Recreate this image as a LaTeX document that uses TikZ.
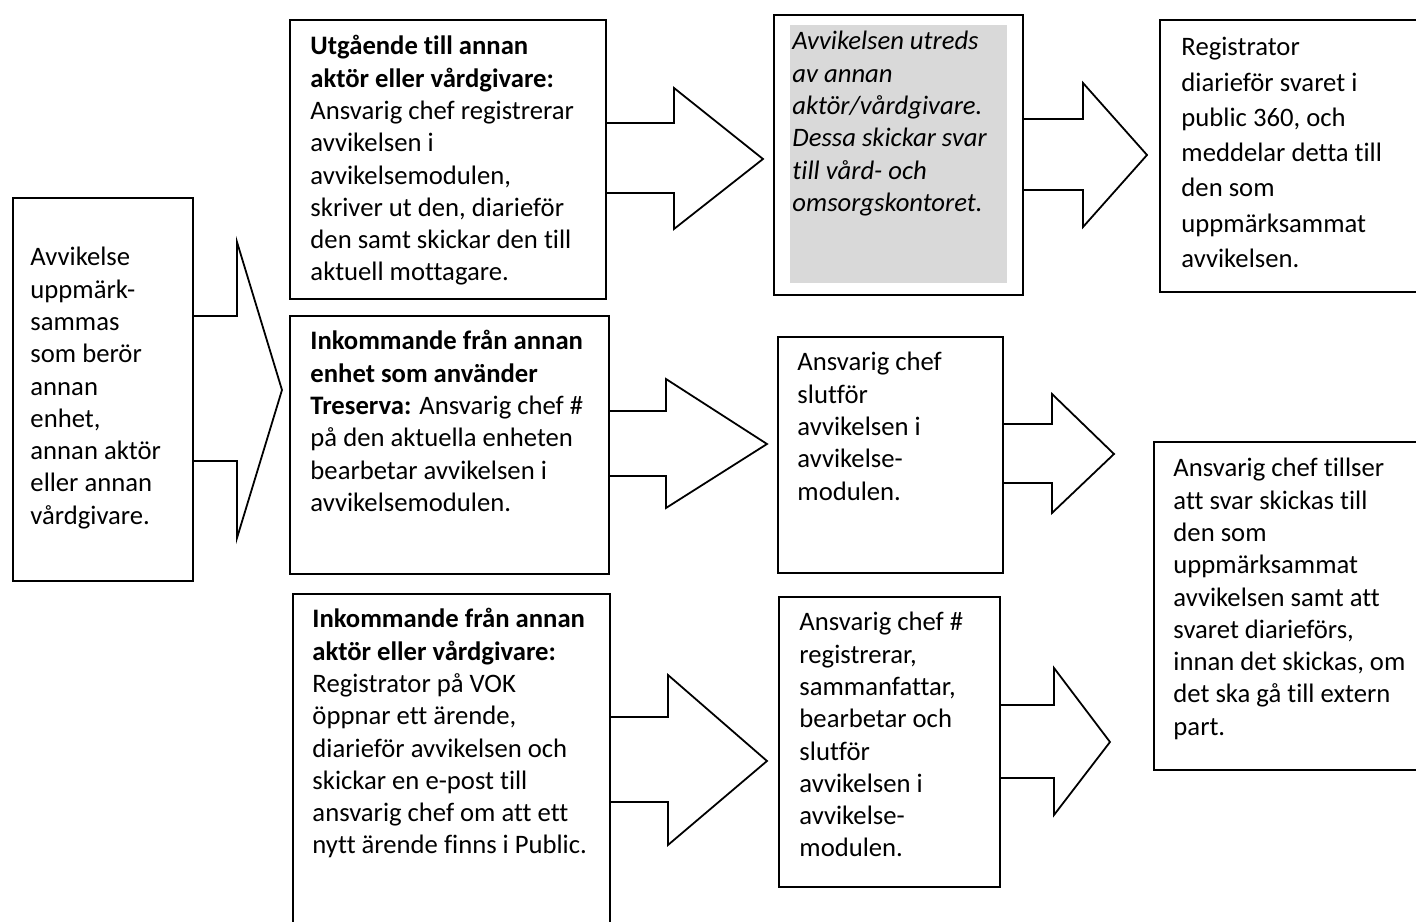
\documentclass[tikz,border=0pt]{standalone}
\usepackage{fontspec}
\setmainfont{Carlito}[Ligatures=NoCommon]
\definecolor{boxgray}{HTML}{D9D9D9}
\begin{document}
\begin{tikzpicture}[x=0.42pt,y=-0.42pt,
  box/.style={draw=black,line width=0.75pt,fill=white,inner sep=0pt,anchor=north west},
  blk/.style={draw=black,line width=0.75pt,line join=miter},
  txt/.style={anchor=base west,inner sep=0pt,font=\fontsize{11.2}{13.55}\selectfont},
  txtw/.style={anchor=base west,inner sep=0pt,font=\fontsize{11.2}{14.8}\selectfont}]
\clip (0,0) rectangle (1416,922);
\fill[white] (0,0) rectangle (1416,922);
% boxes
\node[box,minimum width=180*0.42pt,minimum height=383*0.42pt] (b1) at (12,197) {};
\node[box,minimum width=316*0.42pt,minimum height=279*0.42pt] (b2) at (289,19) {};
\node[box,minimum width=249*0.42pt,minimum height=280*0.42pt] (b3) at (773,14) {};
\node[box,minimum width=281*0.42pt,minimum height=272*0.42pt] (b4) at (1159,19) {};
\node[box,minimum width=319*0.42pt,minimum height=258*0.42pt] (b5) at (289,315) {};
\node[box,minimum width=225*0.42pt,minimum height=236*0.42pt] (b6) at (777,336) {};
\node[box,minimum width=317*0.42pt,minimum height=357*0.42pt] (b7) at (292,593) {};
\node[box,minimum width=221*0.42pt,minimum height=290*0.42pt] (b8) at (778,596) {};
\node[box,minimum width=287*0.42pt,minimum height=328*0.42pt] (b9) at (1153,441) {};
\fill[boxgray] (790,25) rectangle (1007,283);
% block arrows
\draw[blk] (b1.east |- 0,316) -- (237,316) -- (237,242) -- (282,390) -- (237,538) -- (237,461) -- (b1.east |- 0,461);
\draw[blk] (b2.east |- 0,123) -- (674,123) -- (674,88) -- (763,159) -- (674,229) -- (674,193) -- (b2.east |- 0,193);
\draw[blk] (b3.east |- 0,119) -- (1083,119) -- (1083,83) -- (1147,155) -- (1083,227) -- (1083,190) -- (b3.east |- 0,190);
\draw[blk] (b5.east |- 0,411) -- (666,411) -- (666,379) -- (767,444) -- (666,508) -- (666,476) -- (b5.east |- 0,476);
\draw[blk] (b6.east |- 0,424) -- (1052,424) -- (1052,394) -- (1114,454) -- (1052,513) -- (1052,483) -- (b6.east |- 0,483);
\draw[blk] (b7.east |- 0,717) -- (668,717) -- (668,675) -- (767,761) -- (668,845) -- (668,802) -- (b7.east |- 0,802);
\draw[blk] (b8.east |- 0,705) -- (1054,705) -- (1054,668) -- (1110,742) -- (1054,815) -- (1054,778) -- (b8.east |- 0,778);
% texts
\node[txt] (t1) at (30,266) {\parbox[t]{200pt}{\raggedright Avvikelse\\uppmärk-\\sammas\\som berör\\annan\\enhet,\\annan aktör\\eller annan\\vårdgivare.}};
\node[txt] (t2) at (310,55) {\parbox[t]{200pt}{\raggedright \textbf{Utgående till annan}\\\textbf{aktör eller vårdgivare:}\\Ansvarig chef registrerar\\avvikelsen i\\avvikelsemodulen,\\skriver ut den, diarieför\\den samt skickar den till\\aktuell mottagare.}};
\node[txt] (t3) at (792,50) {\parbox[t]{200pt}{\raggedright\itshape Avvikelsen utreds\\av annan\\aktör/vårdgivare.\\Dessa skickar svar\\till vård- och\\omsorgskontoret.}};
\node[txtw] (t4) at (1181,56) {\parbox[t]{200pt}{\raggedright Registrator\\diarieför svaret i\\public 360, och\\meddelar detta till\\den som\\uppmärksammat\\avvikelsen.}};
\node[txt] (t5) at (310,350) {\parbox[t]{200pt}{\raggedright \textbf{Inkommande från annan}\\\textbf{enhet som använder}\\\textbf{Treserva:} Ansvarig chef \#\\på den aktuella enheten\\bearbetar avvikelsen i\\avvikelsemodulen.}};
\node[txt] (t6) at (797,371) {\parbox[t]{200pt}{\raggedright Ansvarig chef\\slutför\\avvikelsen i\\avvikelse-\\modulen.}};
\node[txt] (t7) at (312,628) {\parbox[t]{200pt}{\raggedright \textbf{Inkommande från annan}\\\textbf{aktör eller vårdgivare:}\\Registrator på VOK\\öppnar ett ärende,\\diarieför avvikelsen och\\skickar en e-post till\\ansvarig chef om att ett\\nytt ärende finns i Public.}};
\node[txt] (t8) at (799,631) {\parbox[t]{200pt}{\raggedright Ansvarig chef \#\\registrerar,\\sammanfattar,\\bearbetar och\\slutför\\avvikelsen i\\avvikelse-\\modulen.}};
\node[txt] (t9) at (1173,477) {\parbox[t]{200pt}{\raggedright Ansvarig chef tillser\\att svar skickas till\\den som\\uppmärksammat\\avvikelsen samt att\\svaret diarieförs,\\innan det skickas, om\\det ska gå till extern\\part.}};
\end{tikzpicture}
\end{document}
